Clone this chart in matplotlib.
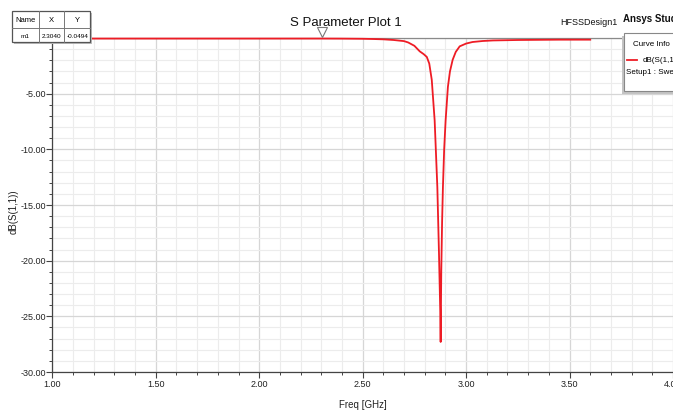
import matplotlib
matplotlib.use("Agg")
import matplotlib.pyplot as plt
import matplotlib.transforms as mtransforms
from matplotlib.patches import Rectangle
from matplotlib.lines import Line2D
from matplotlib.ticker import MultipleLocator

# S11 sweep
freq = [1.00, 1.50, 2.00, 2.304, 2.40, 2.50, 2.55, 2.60, 2.65, 2.70, 2.72, 2.75,
        2.776, 2.795, 2.810, 2.822, 2.834, 2.848, 2.861, 2.869, 2.875, 2.877,
        2.880, 2.884, 2.888, 2.894, 2.901, 2.912, 2.922, 2.935, 2.95, 2.969,
        3.00, 3.031, 3.08, 3.13, 3.25, 3.45, 3.60]
s11 = [-0.05, -0.05, -0.05, -0.049, -0.055, -0.07, -0.09, -0.12, -0.18, -0.28, -0.40, -0.70,
       -1.20, -1.45, -1.70, -2.30, -3.75, -7.4, -13.4, -19.4, -24.5, -27.3,
       -20.9, -16.5, -13.4, -10.0, -7.4, -4.4, -3.0, -1.96, -1.25, -0.75,
       -0.50, -0.36, -0.27, -0.22, -0.18, -0.15, -0.15]

m1_x, m1_y = 2.3040, -0.0494
x_ticks = [1.0, 1.5, 2.0, 2.5, 3.0, 3.5, 4.0]
y_ticks = [-30, -25, -20, -15, -10, -5, 0]

W, H = 673, 411
plt.rcParams['font.family'] = ['Liberation Sans', 'DejaVu Sans']


def fx(px):
    return px / W


def fy(py):
    return 1 - py / H


fig = plt.figure(figsize=(W / 100, H / 100), dpi=100)
ax_left = 52.3
ax = fig.add_axes([ax_left / W, 1 - 372 / H, 1 - ax_left / W, (372 - 38) / H])

ax.plot(freq, s11, color='#ee1c25', lw=1.3, zorder=3, clip_on=False)

ax.set_xlim(1.0, 4.0)
ax.set_ylim(-30, 0)
ax.set_xticks(x_ticks)
ax.set_yticks(y_ticks)
ax.set_xticklabels([f'{v:.2f}' for v in x_ticks])
ax.set_yticklabels([f'{v:.2f}' for v in y_ticks])
ax.xaxis.set_minor_locator(MultipleLocator(0.1))
ax.yaxis.set_minor_locator(MultipleLocator(1))
ax.grid(which='major', color='#d6d6d6', lw=0.9)
ax.grid(which='minor', color='#ececec', lw=0.8)
ax.set_axisbelow(True)
ax.tick_params(which='major', length=4, width=0.8, color='#444444',
               labelsize=6.5, pad=0.5, labelcolor='#222222')
ax.tick_params(axis='x', which='major', pad=2)
ax.tick_params(which='minor', length=2.3, width=0.7, color='#444444')
for side in ['left', 'bottom']:
    ax.spines[side].set_color('#444444')
    ax.spines[side].set_linewidth(0.9)
ax.spines['top'].set_color('#8a8a8a')
ax.spines['top'].set_linewidth(0.9)
ax.spines['right'].set_visible(False)

ax.set_xlabel('Freq [GHz]', fontsize=7, labelpad=8, color='#222222')
ax.set_ylabel('dB(S(1,1))', fontsize=7, color='#222222')
ax.yaxis.set_label_coords(-(ax_left - 14) / (W - ax_left), 0.48)
ax.yaxis.label.set_va('center')

# marker triangle sitting just above the trace
tri = mtransforms.offset_copy(ax.transData, fig=fig, x=0, y=5, units='points')
ax.plot([m1_x], [m1_y], marker='v', ms=7, mfc='white', mec='#777777', mew=0.8,
        transform=tri, clip_on=False, zorder=5)

# titles
fig.text(fx(346), fy(23), 'S Parameter Plot 1', fontsize=9.5, ha='center', va='center',
         color='#111111')
fig.text(fx(589), fy(22.5), 'HFSSDesign1', fontsize=6.5, ha='center', va='center',
         color='#111111')
fig.text(fx(623), fy(19.5), 'Ansys Student', fontsize=7, fontweight='bold',
         ha='left', va='center', color='#111111')

# marker table
fig.add_artist(Rectangle((fx(13.5), fy(44.5)), (90 - 11.7) / W, (42.3 - 10.7) / H,
                         transform=fig.transFigure, fc='#bdbdbd', ec='none', zorder=6))
fig.add_artist(Rectangle((fx(11.7), fy(42.3)), (90 - 11.7) / W, (42.3 - 10.7) / H,
                         transform=fig.transFigure, fc='white', ec='#555555', lw=0.9, zorder=7))
for xv in [39.3, 64.3]:
    fig.add_artist(Line2D([fx(xv), fx(xv)], [fy(10.7), fy(42.3)], transform=fig.transFigure,
                          color='#777777', lw=0.7, zorder=8))
fig.add_artist(Line2D([fx(11.7), fx(90)], [fy(28.3), fy(28.3)], transform=fig.transFigure,
                      color='#777777', lw=0.7, zorder=8))
header = ['Name', 'X', 'Y']
row = ['m1', f'{m1_x:.4f}', f'{m1_y:.4f}']
for cx, h, r in zip([25.5, 51.8, 77.2], header, row):
    fig.text(fx(cx), fy(20), h, fontsize=5.5, ha='center', va='center', zorder=9)
    fig.text(fx(cx), fy(36), r, fontsize=4.6, ha='center', va='center', zorder=9)

# curve info box
fig.add_artist(Rectangle((fx(622), fy(94)), 60 / W, 58 / H, transform=fig.transFigure,
                         fc='#c4c4c4', ec='none', zorder=6))
fig.add_artist(Rectangle((fx(624), fy(91)), 60 / W, 58 / H, transform=fig.transFigure,
                         fc='white', ec='#888888', lw=0.8, zorder=7))
fig.text(fx(633), fy(44), 'Curve Info', fontsize=5.8, ha='left', va='center', zorder=9)
fig.add_artist(Line2D([fx(627), fx(637)], [fy(60), fy(60)], transform=fig.transFigure,
                      color='#ee1c25', lw=1.3, zorder=8))
fig.text(fx(643), fy(60), 'dB(S(1,1))', fontsize=5.8, ha='left', va='center', zorder=9)
fig.text(fx(626), fy(72), 'Setup1 : Sweep', fontsize=5.8, ha='left', va='center', zorder=9)

fig.savefig('out.png', dpi=100)
